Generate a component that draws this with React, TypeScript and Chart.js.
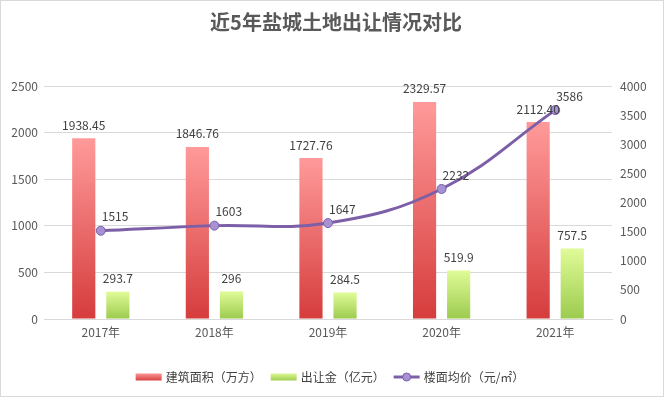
import React, { useEffect, useRef } from "react";
import { Chart, registerables } from "chart.js";

Chart.register(...registerables);

const FONT = '"Noto Sans CJK SC", "Microsoft YaHei", sans-serif';

const titleText = "近5年盐城土地出让情况对比";
const categories = ["2017年", "2018年", "2019年", "2020年", "2021年"];
const buildingArea = [1938.45, 1846.76, 1727.76, 2329.57, 2112.4];
const buildingAreaLabels = ["1938.45", "1846.76", "1727.76", "2329.57", "2112.40"];
const transferAmount = [293.7, 296, 284.5, 519.9, 757.5];
const transferAmountLabels = ["293.7", "296", "284.5", "519.9", "757.5"];
const floorPrice = [1515, 1603, 1647, 2232, 3586];
const floorPriceLabels = ["1515", "1603", "1647", "2232", "3586"];
const seriesNames = ["建筑面积（万方）", "出让金（亿元）", "楼面均价（元/㎡）"];

const RED_TOP = "#FF9A9A";
const RED_BOTTOM = "#D63C3C";
const GREEN_TOP = "#E0FB98";
const GREEN_BOTTOM = "#9CCB4E";
const PURPLE = "#7D5FA8";
const PURPLE_FILL = "#A691D2";
const TEXT = "#404040";
const AXIS_TEXT = "#595959";
const GRID = "#D9D9D9";

const barGradient = (top: string, bottom: string) => (c: any) => {
  const chart = c.chart;
  if (!chart.chartArea || c.type !== "data") return bottom;
  const ys = chart.scales.y;
  const y0 = ys.getPixelForValue(c.raw);
  const y1 = ys.getPixelForValue(0);
  if (!isFinite(y0) || !isFinite(y1) || y0 === y1) return bottom;
  const g = chart.ctx.createLinearGradient(0, y0, 0, y1);
  g.addColorStop(0, top);
  g.addColorStop(1, bottom);
  return g;
};

const plainTick = (v: any) => String(v);

const decorPlugin = {
  id: "decor",
  beforeDraw(chart: any) {
    const ctx = chart.ctx;
    ctx.save();
    ctx.fillStyle = "#FFFFFF";
    ctx.fillRect(0, 0, chart.width, chart.height);
    ctx.restore();
  },
  afterDatasetsDraw(chart: any) {
    const ctx = chart.ctx;
    ctx.save();
    ctx.font = `12px ${FONT}`;
    ctx.fillStyle = TEXT;
    ctx.textBaseline = "middle";
    const labelSets = [buildingAreaLabels, transferAmountLabels, floorPriceLabels];
    chart.data.datasets.forEach((ds: any, i: number) => {
      const meta = chart.getDatasetMeta(i);
      meta.data.forEach((el: any, j: number) => {
        const txt = labelSets[i][j];
        if (i < 2) {
          ctx.textAlign = "center";
          ctx.fillText(txt, el.x, el.y - 13);
        } else {
          ctx.textAlign = "left";
          ctx.fillText(txt, el.x + 1, el.y - 14);
        }
      });
    });
    ctx.restore();
  },
  afterDraw(chart: any) {
    const ctx = chart.ctx;
    ctx.save();
    ctx.font = `bold 20px ${FONT}`;
    ctx.fillStyle = AXIS_TEXT;
    ctx.textAlign = "center";
    ctx.textBaseline = "middle";
    ctx.fillText(titleText, 336, 22);

    ctx.font = `12px ${FONT}`;
    ctx.textAlign = "left";
    const y = 377;
    const boxW = 26;
    const gapText = 4;
    const gapItem = 9;
    const widths = seriesNames.map((n) => boxW + gapText + ctx.measureText(n).width);
    const total = widths.reduce((a, b) => a + b, 0) + gapItem * (widths.length - 1);
    let x = 330 - total / 2;
    seriesNames.forEach((name, i) => {
      if (i === 0 || i === 1) {
        const g = ctx.createLinearGradient(0, y - 4, 0, y + 4);
        g.addColorStop(0, i === 0 ? RED_TOP : GREEN_TOP);
        g.addColorStop(1, i === 0 ? RED_BOTTOM : GREEN_BOTTOM);
        ctx.fillStyle = g;
        ctx.fillRect(x, y - 3.5, boxW, 7);
      } else {
        ctx.strokeStyle = PURPLE;
        ctx.lineWidth = 3;
        ctx.beginPath();
        ctx.moveTo(x, y);
        ctx.lineTo(x + boxW, y);
        ctx.stroke();
        ctx.beginPath();
        ctx.arc(x + boxW / 2, y, 4, 0, Math.PI * 2);
        ctx.fillStyle = PURPLE_FILL;
        ctx.fill();
        ctx.lineWidth = 1;
        ctx.stroke();
      }
      ctx.fillStyle = TEXT;
      ctx.fillText(name, x + boxW + gapText, y + 0.5);
      x += widths[i] + gapItem;
    });

    ctx.strokeStyle = GRID;
    ctx.lineWidth = 1;
    ctx.strokeRect(0.5, 0.5, chart.width - 1, chart.height - 1);
    ctx.restore();
  },
};

export default function App() {
  const ref = useRef<HTMLCanvasElement | null>(null);

  useEffect(() => {
    if (!ref.current) return;
    const chart = new Chart(ref.current, {
      type: "bar",
      data: {
        labels: categories,
        datasets: [
          {
            type: "bar",
            label: seriesNames[0],
            data: buildingArea,
            yAxisID: "y",
            backgroundColor: barGradient(RED_TOP, RED_BOTTOM),
            categoryPercentage: 0.6,
            barPercentage: 0.68,
            order: 2,
          },
          {
            type: "bar",
            label: seriesNames[1],
            data: transferAmount,
            yAxisID: "y",
            backgroundColor: barGradient(GREEN_TOP, GREEN_BOTTOM),
            categoryPercentage: 0.6,
            barPercentage: 0.68,
            order: 2,
          },
          {
            type: "line",
            label: seriesNames[2],
            data: floorPrice,
            yAxisID: "y1",
            borderColor: PURPLE,
            borderWidth: 3,
            backgroundColor: PURPLE_FILL,
            pointBackgroundColor: PURPLE_FILL,
            pointBorderColor: PURPLE,
            pointBorderWidth: 1,
            pointRadius: 4.5,
            tension: 0.4,
            fill: false,
            order: 0,
          } as any,
        ],
      },
      options: {
        responsive: false,
        animation: false,
        devicePixelRatio: 1,
        layout: { padding: { top: 86, bottom: 50, left: 0, right: 0 } },
        plugins: {
          legend: { display: false },
          title: { display: false },
          tooltip: { enabled: false },
        },
        scales: {
          x: {
            grid: { display: false, drawTicks: false },
            border: { display: true, color: GRID },
            ticks: { color: AXIS_TEXT, font: { family: FONT, size: 12 }, padding: 6 },
            afterFit: (s: any) => {
              s.height = 28;
            },
          },
          y: {
            position: "left",
            min: 0,
            max: 2500,
            ticks: { stepSize: 500, callback: plainTick, color: AXIS_TEXT, font: { family: FONT, size: 12 }, padding: 6 },
            grid: { color: GRID, drawTicks: false },
            border: { display: false },
            afterFit: (s: any) => {
              s.width = 44;
            },
          },
          y1: {
            position: "right",
            min: 0,
            max: 4000,
            ticks: { stepSize: 500, callback: plainTick, color: AXIS_TEXT, font: { family: FONT, size: 12 }, padding: 8 },
            grid: { display: false, drawTicks: false },
            border: { display: false },
            afterFit: (s: any) => {
              s.width = 52;
            },
          },
        },
      } as any,
      plugins: [decorPlugin],
    });
    return () => chart.destroy();
  }, []);

  return (
    <div style={{ position: "absolute", left: 0, top: 0, width: 664, height: 397 }}>
      <canvas ref={ref} width={664} height={397} style={{ display: "block" }} />
    </div>
  );
}
